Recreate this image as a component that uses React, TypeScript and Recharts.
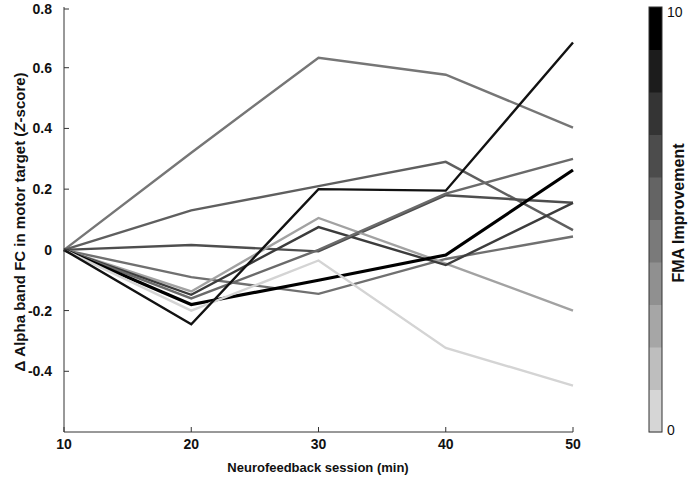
import { LineChart, Line, XAxis, YAxis } from "recharts";

const sessions = [10, 20, 30, 40, 50];
const yTicks = [-0.4, -0.2, 0, 0.2, 0.4, 0.6, 0.8];

// one row per subject, colour taken from the FMA colormap
const subjA = [0, 0.32, 0.633, 0.577, 0.403];
const subjB = [0, 0.13, 0.21, 0.29, 0.065];
const subjC = [0, 0.016, -0.005, 0.18, 0.155];
const subjD = [0, -0.09, -0.145, -0.03, 0.044];
const subjE = [0, -0.137, 0.105, -0.045, -0.2];
const subjF = [0, -0.148, 0.075, -0.05, 0.155];
const subjG = [0, -0.16, 0.0, 0.185, 0.3];
const subjH = [0, -0.18, -0.1, -0.017, 0.263];
const subjI = [0, -0.2, -0.035, -0.323, -0.447];
const subjJ = [0, -0.245, 0.2, 0.195, 0.683];

const subjects = [
  { key: "A", values: subjA, color: "#767676", width: 2.4 },
  { key: "B", values: subjB, color: "#5f5f5f", width: 2.4 },
  { key: "C", values: subjC, color: "#4e4e4e", width: 2.4 },
  { key: "D", values: subjD, color: "#707070", width: 2.4 },
  { key: "E", values: subjE, color: "#a2a2a2", width: 2.4 },
  { key: "F", values: subjF, color: "#3c3c3c", width: 2.4 },
  { key: "G", values: subjG, color: "#6a6a6a", width: 2.4 },
  { key: "H", values: subjH, color: "#000000", width: 3.2 },
  { key: "I", values: subjI, color: "#d4d4d4", width: 2.4 },
  { key: "J", values: subjJ, color: "#121212", width: 2.4 },
];

// colorbar, bottom (0) to top (10)
const cbarColors = [
  "#d6d6d6", "#bebebe", "#a6a6a6", "#909090", "#7a7a7a",
  "#646464", "#4c4c4c", "#343434", "#1c1c1c", "#000000",
];

const font = "'Liberation Sans', Arial, Helvetica, sans-serif";

const rows = sessions.map((s, i) => {
  const r: any = { session: s };
  subjects.forEach((sub) => (r[sub.key] = sub.values[i]));
  return r;
});

const YTick = (props: any) => {
  const { y, payload } = props;
  return (
    <g>
      <line x1={64} x2={69} y1={y} y2={y} stroke="#333" strokeWidth={1} />
      <text x={52} y={y} dy={5} textAnchor="end" fontSize={14} fontWeight="bold" fontFamily={font} fill="#111">
        {payload.value}
      </text>
    </g>
  );
};

const XTick = (props: any) => {
  const { x, payload } = props;
  return (
    <g>
      <line x1={x} x2={x} y1={432} y2={427} stroke="#333" strokeWidth={1} />
      <text x={x} y={449} textAnchor="middle" fontSize={14} fontWeight="bold" fontFamily={font} fill="#111">
        {payload.value}
      </text>
    </g>
  );
};

export default function App() {
  const bandH = 425 / cbarColors.length;
  return (
    <div style={{ position: "absolute", left: 0, top: 0, width: 689, height: 482, background: "#fff" }}>
      <LineChart width={689} height={482} data={rows} margin={{ top: 7, right: 116, bottom: 0, left: 0 }}>
        <XAxis
          dataKey="session"
          type="number"
          domain={[10, 50]}
          ticks={sessions}
          height={50}
          tick={<XTick />}
          tickLine={false}
          axisLine={{ stroke: "#333" }}
        />
        <YAxis
          type="number"
          domain={[-0.6, 0.8]}
          ticks={yTicks}
          width={64}
          tick={<YTick />}
          tickLine={false}
          axisLine={{ stroke: "#333" }}
        />
        {subjects.map((s) => (
          <Line
            key={s.key}
            dataKey={s.key}
            stroke={s.color}
            strokeWidth={s.width}
            dot={false}
            isAnimationActive={false}
            strokeLinejoin="miter"
          />
        ))}
      </LineChart>
      <svg width={689} height={482} style={{ position: "absolute", left: 0, top: 0, pointerEvents: "none" }}>
        <text
          transform="translate(25,222) rotate(-90)"
          textAnchor="middle"
          fontSize={15}
          fontWeight="bold"
          fontFamily={font}
          fill="#111"
        >
          {"\u0394 Alpha band FC in motor target ("}
          <tspan fontStyle="italic">Z</tspan>
          {"-score)"}
        </text>
        <text x={318} y={472} textAnchor="middle" fontSize={13} fontWeight="bold" fontFamily={font} fill="#111">
          Neurofeedback session (min)
        </text>
        {cbarColors.map((c, i) => (
          <rect key={c} x={649} y={432 - (i + 1) * bandH} width={13} height={bandH + 0.5} fill={c} />
        ))}
        <rect x={649} y={7} width={13} height={425} fill="none" stroke="#333" strokeWidth={1} />
        <text x={667} y={17} fontSize={14} fontFamily={font} fill="#111">10</text>
        <text x={667} y={435} fontSize={14} fontFamily={font} fill="#111">0</text>
        <text
          transform="translate(684,213) rotate(-90)"
          textAnchor="middle"
          fontSize={16}
          fontWeight="bold"
          fontFamily={font}
          fill="#111"
        >
          FMA Improvement
        </text>
      </svg>
    </div>
  );
}
